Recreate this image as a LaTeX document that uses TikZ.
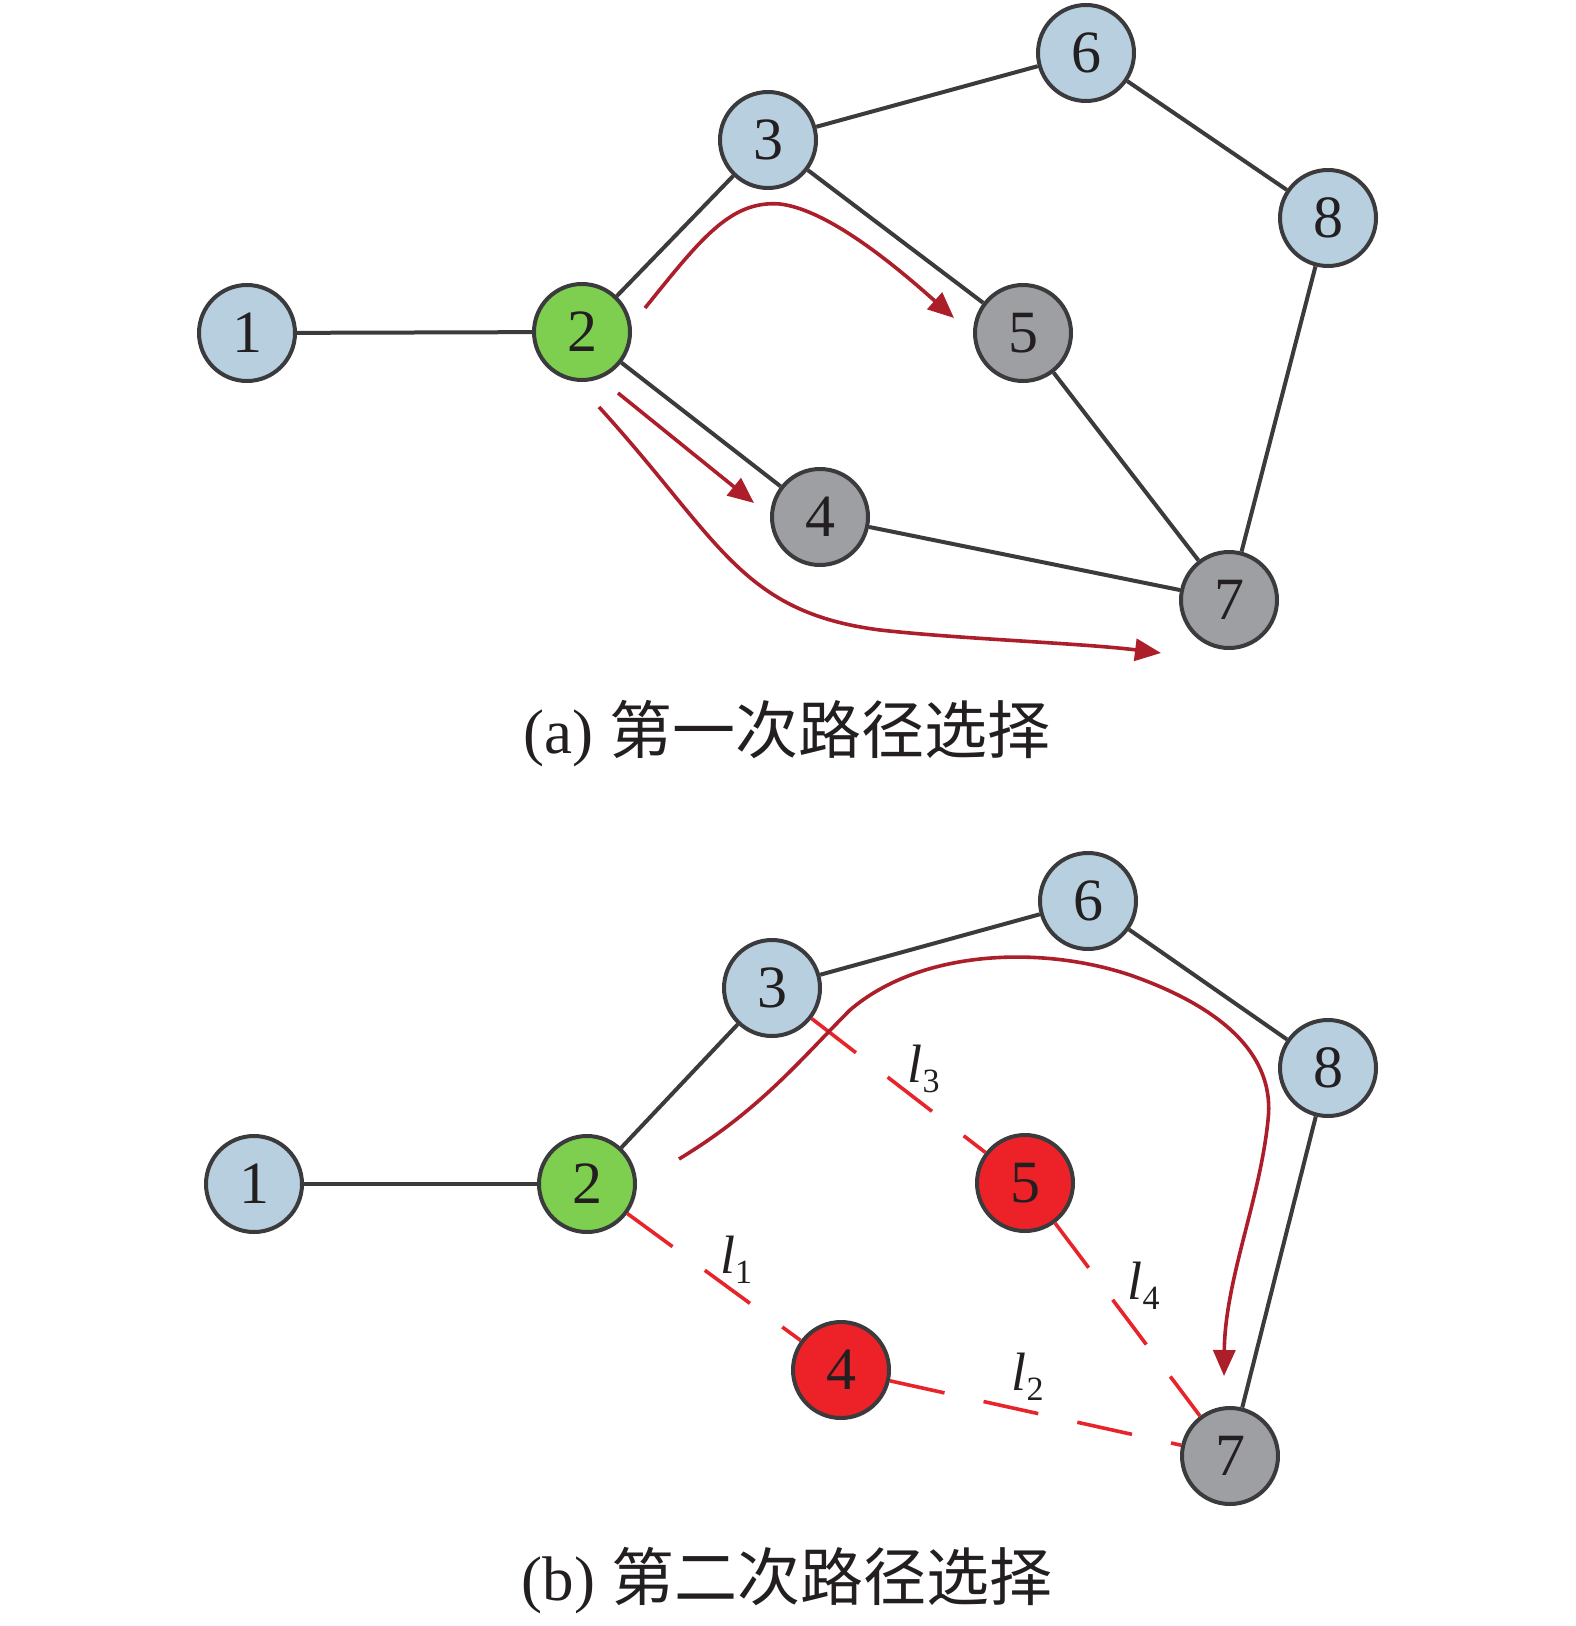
\documentclass[tikz,border=0pt]{standalone}
\usepackage{fontspec}
\setmainfont{Liberation Serif}
\newfontfamily\cjk{Noto Sans CJK SC}
\usetikzlibrary{arrows.meta}

\definecolor{nodeblue}{HTML}{B8CFDF}
\definecolor{nodegreen}{HTML}{7ECF50}
\definecolor{nodegray}{HTML}{9D9FA2}
\definecolor{nodered}{HTML}{ED2229}
\definecolor{edgegray}{HTML}{3B3B3D}
\definecolor{arrowred}{HTML}{AC1F2A}
\definecolor{dashred}{HTML}{E8242B}
\definecolor{textblack}{HTML}{231F20}

\tikzset{
  vertex/.style={circle,draw=edgegray,line width=2pt,minimum size=48pt,inner sep=0pt,
    text=textblack,font=\fontsize{30}{36}\selectfont},
  link/.style={draw=edgegray,line width=2pt},
  cut/.style={draw=dashred,line width=1.8pt,dash pattern=on 28pt off 20pt},
  route/.style={draw=arrowred,line width=1.8pt,-{Triangle[length=13pt,width=11pt]}},
  lab/.style={font=\fontsize{27}{30}\selectfont,text=textblack,inner sep=1pt},
  caption/.style={font=\fontsize{31.5}{36}\selectfont,text=textblack}
}
\newcommand{\linkname}[1]{\textit{l}\raisebox{-5pt}{\fontsize{17}{20}\selectfont #1}}

\begin{document}
\begin{tikzpicture}[x=0.5pt,y=-0.5pt]
\useasboundingbox (0,0) rectangle (1575,1626);

% (a) first selection
\node[vertex,fill=nodeblue] (a1) at (247,333) {1};
\node[vertex,fill=nodegreen] (a2) at (582,332) {2};
\node[vertex,fill=nodeblue] (a3) at (768,140) {3};
\node[vertex,fill=nodegray] (a4) at (820,517) {4};
\node[vertex,fill=nodegray] (a5) at (1023,333) {5};
\node[vertex,fill=nodeblue] (a6) at (1086,53) {6};
\node[vertex,fill=nodegray] (a7) at (1229,600) {7};
\node[vertex,fill=nodeblue] (a8) at (1328,218) {8};
\draw[link] (a1) -- (a2);
\draw[link] (a2) -- (a3);
\draw[link] (a3) -- (a6);
\draw[link] (a6) -- (a8);
\draw[link] (a8) -- (a7);
\draw[link] (a3) -- (a5);
\draw[link] (a2) -- (a4);
\draw[link] (a4) -- (a7);
\draw[link] (a5) -- (a7);

\coordinate (p5s) at (645,308);
\coordinate (p5e) at (954,318);
\coordinate (p4s) at (618,393);
\coordinate (p4e) at (754,503);
\coordinate (p7s) at (599,407);
\coordinate (p7e) at (1161,653);
\draw[route] (p5s) .. controls (700,240) and (730,200) .. (780,204)
  .. controls (830,210) and (900,270) .. (p5e);
\draw[route] (p4s) -- (p4e);
\draw[route] (p7s) .. controls (720,540) and (740,612) .. (880,630)
  .. controls (960,639) and (1080,643) .. (p7e);

\node[caption] (capa) at (787,734) {(a) {\cjk 第一次路径选择}};

% (b) second selection
\node[vertex,fill=nodeblue] (b1) at (254,1184) {1};
\node[vertex,fill=nodegreen] (b2) at (587,1184) {2};
\node[vertex,fill=nodeblue] (b3) at (772,988) {3};
\node[vertex,fill=nodered] (b4) at (841,1370) {4};
\node[vertex,fill=nodered] (b5) at (1025,1183) {5};
\node[vertex,fill=nodeblue] (b6) at (1088,901) {6};
\node[vertex,fill=nodegray] (b7) at (1230,1456) {7};
\node[vertex,fill=nodeblue] (b8) at (1328,1068) {8};
\draw[link] (b1) -- (b2);
\draw[link] (b2) -- (b3);
\draw[link] (b3) -- (b6);
\draw[link] (b6) -- (b8);
\draw[link] (b8) -- (b7);
\draw[cut] (b2) -- node[lab,xshift=11pt,yshift=8.5pt] {\linkname{1}} (b4);
\draw[cut] (b4) -- node[lab,xshift=-4pt,yshift=18pt] {\linkname{2}} (b7);
\draw[cut] (b3) -- node[lab,xshift=12.5pt,yshift=8.5pt] {\linkname{3}} (b5);
\draw[cut] (b5) -- node[lab,xshift=8pt,yshift=17pt] {\linkname{4}} (b7);

\coordinate (q7s) at (679,1159);
\coordinate (q7e) at (1224,1376);
\draw[route] (q7s) .. controls (760,1110) and (800,1060) .. (850,1010)
  .. controls (920,950) and (1040,945) .. (1130,975)
  .. controls (1230,1010) and (1275,1060) .. (1268,1120)
  .. controls (1260,1200) and (1225,1280) .. (q7e);

\node[caption] (capb) at (787,1581) {(b) {\cjk 第二次路径选择}};
\end{tikzpicture}
\end{document}
